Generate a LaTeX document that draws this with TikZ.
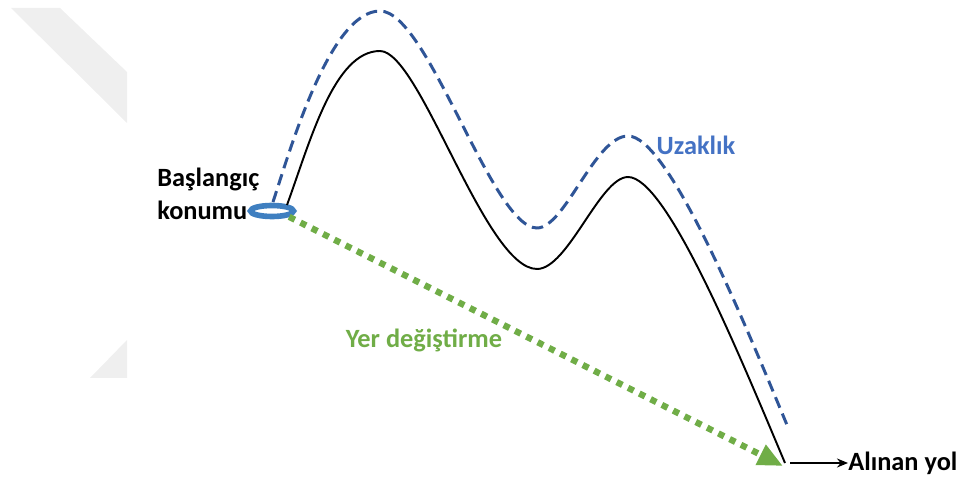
\documentclass[tikz,border=0pt]{standalone}
\usepackage{fontspec}
\setmainfont{Carlito}
\usetikzlibrary{arrows.meta,positioning,shapes.geometric}
\definecolor{Ink}{HTML}{000000}
\definecolor{PathBlue}{HTML}{2F5597}
\definecolor{TextBlue}{HTML}{4472C4}
\definecolor{RingBlue}{HTML}{3F7FC0}
\definecolor{Leaf}{HTML}{70AD47}
\definecolor{Mark}{HTML}{EFEFEF}
\tikzset{
  lbl/.style={font=\fontsize{15}{19}\selectfont\bfseries, inner sep=0pt, align=left},
  road/.style={draw=Ink, line width=1.1pt},
  span/.style={draw=PathBlue, line width=1.7pt, dash pattern=on 6.5pt off 3.6pt},
  move/.style={draw=Leaf, line width=3.6pt, dash pattern=on 3.6pt off 3.6pt, -{Triangle[length=0.5cm,width=0.42cm]}},
  ring/.style={ellipse, draw=RingBlue, line width=3.2pt, fill=white, minimum width=0.86cm, minimum height=0.22cm, inner sep=0pt},
  arrow/.style={-{Stealth[length=2.2mm,width=1.8mm]}, line width=1.1pt, draw=Ink}
}
\begin{document}
\begin{tikzpicture}[x=0.02cm, y=-0.02cm]
\useasboundingbox (0,0) rectangle (957,479);
% faint watermark
\fill[Mark] (11,8) -- (60,8) -- (127,72) -- (127,123) -- cycle;
\fill[Mark] (90,378) -- (127,340) -- (127,378) -- cycle;
% start point and labels
\node[ring] (start) at (272,211) {};
\node[lbl, anchor=west] (basl) at (157,194) {Başlangıç\\konumu};
\coordinate (b0) at (287,205);
\coordinate (b1) at (380,51);
\coordinate (b2) at (537,269);
\coordinate (b3) at (628,177);
\coordinate (b4) at (785,463);
\coordinate (u0) at (273,202);
\coordinate (u1) at (380,11);
\coordinate (u2) at (537,228);
\coordinate (u3) at (628,136);
\coordinate (u4) at (787,425);
\coordinate (tip) at (783,466);
\coordinate (yolstart) at (790,463);
% the way taken
\draw[road] (b0) .. controls (310,142) and (334,51) .. (b1)
  .. controls (420,51) and (485,269) .. (b2)
  .. controls (568,269) and (600,177) .. (b3)
  .. controls (666,177) and (737,349) .. (b4);
% distance
\draw[span] (u0) .. controls (290,150) and (330,11) .. (u1)
  .. controls (428,11) and (492,228) .. (u2)
  .. controls (565,228) and (595,136) .. (u3)
  .. controls (667,136) and (739,309) .. (u4);
\node[lbl, text=TextBlue] (uzak) at (696,145) {Uzaklık};
% displacement
\draw[move] (start.south east) -- (tip);
\node[lbl, text=Leaf] (yer) at (424,340) {Yer değiştirme};
% path label
\node[lbl, anchor=west] (yol) at (848,463) {Alınan yol};
\draw[arrow] (yolstart) -- (yol.west);
\end{tikzpicture}
\end{document}
